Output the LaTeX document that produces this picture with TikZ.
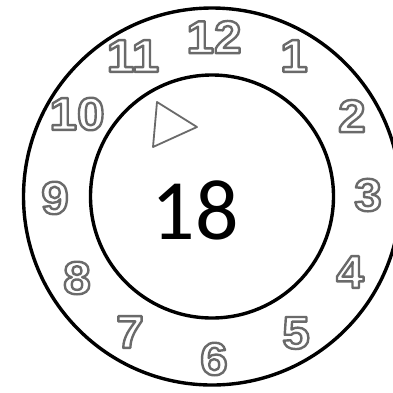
\documentclass[tikz,border=0pt]{standalone}
\usepackage{fontspec}
\setmainfont{Liberation Sans}
\newfontfamily\clockfont[FakeStretch=1.08]{Liberation Sans}
\newfontfamily\calibfont{Carlito}
\newcommand\hollowdigits[1]{\special{pdf:literal direct 2.4 w 1 j 1 Tr}#1\special{pdf:literal direct 0 Tr}}
\definecolor{digitgray}{HTML}{6A6A6A}
\definecolor{trigray}{HTML}{6A6A6A}
\begin{document}
\begin{tikzpicture}[x=1pt,y=-1pt,
  ring/.style={line width=3.4pt,black},
  hour/.style={inner sep=0pt,text=digitgray,font=\clockfont\fontsize{46}{46}\selectfont\bfseries},
  marker/.style={trigray,line width=1.8pt,line join=round},
  centernum/.style={inner sep=0pt,font=\calibfont\fontsize{86}{86}\selectfont}]
\path[use as bounding box] (0,0) rectangle (393,392);
\clip (0,0) rectangle (393,392);
\fill[white] (0,0) rectangle (393,392);
\coordinate (c) at (212,196.5);
\draw[ring] (c) circle[radius=188.5];
\draw[ring] (c) circle[radius=121.5];
\node[hour] (h12) at (214,37) {\hollowdigits{12}};
\node[hour] (h1) at (294,56) {\hollowdigits{1}};
\node[hour] (h2) at (352,116) {\hollowdigits{2}};
\node[hour] (h3) at (368,195) {\hollowdigits{3}};
\node[hour] (h4) at (350,272) {\hollowdigits{4}};
\node[hour] (h5) at (296,333) {\hollowdigits{5}};
\node[hour] (h6) at (214,359) {\hollowdigits{6}};
\node[hour] (h7) at (130,332) {\hollowdigits{7}};
\node[hour] (h8) at (77,278) {\hollowdigits{8}};
\node[hour] (h9) at (55,198) {\hollowdigits{9}};
\node[hour] (h10) at (77,114) {\hollowdigits{10}};
\node[hour] (h11) at (133,56) {\hollowdigits{11}};
\coordinate (t1) at (157,102);
\coordinate (t2) at (197,127);
\coordinate (t3) at (153,147);
\draw[marker] (t1) -- (t2) -- (t3) -- cycle;
\node[centernum] (num) at (195,210.5) {18};
\end{tikzpicture}
\end{document}
